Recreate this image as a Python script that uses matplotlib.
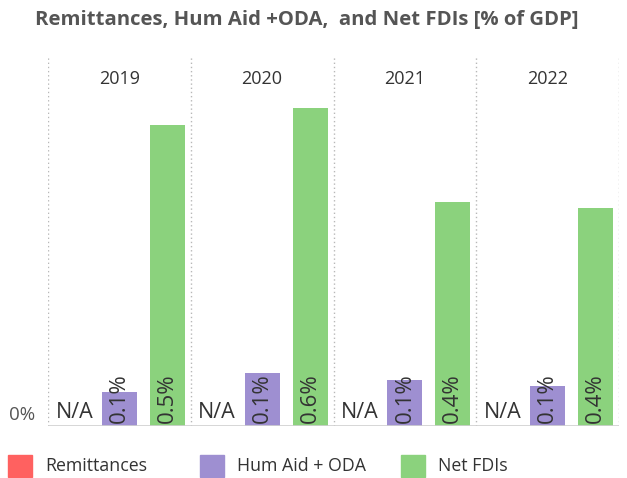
import numpy as np
import matplotlib
matplotlib.use("Agg")
import matplotlib.pyplot as plt
from matplotlib.patches import Rectangle

years = ["2019", "2020", "2021", "2022"]
series = ["Remittances", "Hum Aid + ODA", "Net FDIs"]
remittances = [np.nan, np.nan, np.nan, np.nan]   # N/A
hum_aid_oda = [0.059, 0.092, 0.080, 0.069]       # % of GDP
net_fdis = [0.520, 0.550, 0.388, 0.377]
colors = ["#FF6160", "#9E8FD1", "#8BD27D"]

plt.rcParams["font.family"] = ["Open Sans", "DejaVu Sans"]
W, H = 627, 478
fig = plt.figure(figsize=(W / 100, H / 100), dpi=100)
ax = fig.add_axes([48 / W, 1 - 426 / H, (619 - 48) / W, (426 - 57) / H])
ax.set_xlim(0, len(years))
ax.set_ylim(0, 0.638)
ax.axis("off")

offsets = [0.164, 0.5, 0.836]
bw = 0.245
for i, yr in enumerate(years):
    vals = [remittances[i], hum_aid_oda[i], net_fdis[i]]
    for k, v in enumerate(vals):
        x = i + offsets[k]
        if np.isnan(v):
            ax.text(x + 0.02, 0.006, "N/A", ha="center", va="bottom",
                    fontsize=15.5, color="#333333")
            continue
        ax.bar(x, v, width=bw, color=colors[k], zorder=2)
        ax.text(x, 0.006, f"{v:.1f}%", rotation=90, ha="center", va="bottom",
                fontsize=16, color="#333333", zorder=3)
    ax.text(i + 0.5, 0.600, yr, ha="center", va="center", fontsize=13, color="#333333")

for i in range(len(years) + 1):
    ax.axvline(i, color="#b8b8b8", lw=1, ls=(0, (1, 2)), zorder=1)
ax.axhline(0, color="#d0d0d0", lw=1.2, zorder=4)

fig.text(22 / W, 1 - 415 / H, "0%", ha="center", va="center", fontsize=13.5, color="#555555")
fig.text(307 / W, 1 - 20 / H, "Remittances, Hum Aid +ODA,  and Net FDIs [% of GDP]",
         ha="center", va="center", fontsize=14.6, fontweight="bold", color="#555555")

# legend
for lx, label, c in zip([8, 200, 401], series, colors):
    fig.patches.append(Rectangle((lx / W, 1 - 477 / H), 24 / W, 22 / H,
                                 transform=fig.transFigure, color=c))
    fig.text((lx + 37) / W, 1 - 466 / H, label, ha="left", va="center",
             fontsize=12.8, color="#333333")

fig.savefig("out.png", dpi=100)
